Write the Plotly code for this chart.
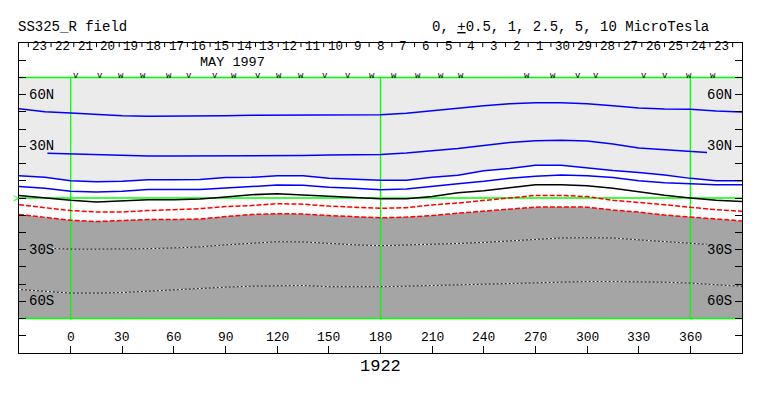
import plotly.graph_objects as go

# ---------------- data ----------------
lon = list(range(-30, 391, 15))  # 29 longitudes

blue_1 = [51.9, 50.1, 49.4, 48.6, 47.8, 47.5, 47.5, 47.5, 47.8, 48.1, 48.1, 48.1, 48.1, 48.1, 48.3,
          49.2, 50.7, 52.1, 53.5, 54.7, 55.3, 55.3, 54.7, 53.5, 52.3, 51.7, 51.5, 50.5, 50.0]
lon_b2 = [-13.5] + list(range(0, 361, 15)) + [369.7]
blue_2 = [26.0, 25.6, 25.0, 24.7, 24.4, 24.4, 24.4, 24.4, 24.4, 24.7, 24.7, 25.0, 25.0, 25.3,
          26.1, 27.3, 28.7, 30.5, 32.2, 33.3, 33.6, 33.1, 31.3, 29.0, 27.9, 26.7, 26.4]
blue_3 = [12.9, 12.1, 10.0, 9.4, 9.7, 10.6, 10.6, 10.8, 11.9, 12.0, 12.9, 12.9, 11.5, 10.7, 10.3,
          10.3, 12.0, 13.2, 15.8, 17.1, 19.0, 19.0, 17.3, 15.9, 14.8, 13.4, 11.4, 10.0, 10.0]
blue_4 = [6.7, 5.7, 3.9, 3.5, 3.9, 5.0, 5.0, 5.0, 5.8, 6.7, 7.5, 7.4, 6.2, 5.7, 4.8,
          5.2, 6.9, 8.3, 9.7, 11.5, 12.7, 13.4, 12.9, 11.9, 10.0, 8.8, 8.3, 7.7, 7.7]
neutral = [1.5, -0.1, -1.3, -2.3, -1.8, -1.0, -1.0, -0.6, 0.6, 1.9, 2.5, 1.7, 0.9, 0.0, -0.4,
           -0.4, 0.9, 3.1, 4.2, 5.9, 7.7, 7.7, 7.1, 5.7, 3.6, 1.6, 0.0, -1.3, -2.0]
red_1 = [-3.9, -5.6, -7.3, -8.1, -8.1, -7.3, -6.9, -6.2, -5.0, -4.4, -3.3, -3.6, -4.7, -5.3, -6.0,
         -5.6, -4.0, -2.9, -1.3, 0.2, 1.5, 1.5, 0.8, -1.3, -2.5, -3.9, -5.4, -6.8, -7.7]
red_2 = [-9.6, -11.4, -12.9, -13.7, -13.1, -12.5, -12.5, -12.2, -10.8, -9.6, -9.1, -9.3, -10.2, -11.0, -11.5,
         -11.1, -10.2, -8.8, -7.6, -6.5, -5.3, -5.2, -5.3, -7.0, -8.2, -9.9, -11.2, -12.2, -13.3]
lon_w1 = [-10.6] + list(range(0, 361, 15)) + [369.5]
white_1 = [-29.3, -29.7, -29.7, -29.7, -29.4, -29.0, -28.4, -27.2, -26.1, -25.4, -25.5, -26.4, -27.2, -27.7,
           -27.4, -26.9, -26.4, -25.8, -24.9, -24.1, -23.2, -23.1, -23.2, -24.3, -25.2, -26.4, -26.9]
white_2 = [-53.1, -54.3, -55.2, -55.2, -54.9, -54.1, -53.2, -52.6, -51.8, -51.2, -50.8, -50.8, -51.5, -51.6, -51.5,
           -51.2, -50.8, -50.4, -50.1, -49.7, -49.2, -48.6, -48.5, -48.5, -48.6, -48.9, -49.4, -50.4, -51.3]

x_ticks = list(range(0, 361, 30))
lat_ticks = [60, 30, -30, -60]
lat_labels = ["60N", "30N", "30S", "60S"]
day_labels = [23, 22, 21, 20, 19, 18, 17, 16, 15, 14, 13, 12, 11, 10, 9, 8, 7, 6, 5, 4, 3, 2, 1,
              30, 29, 28, 27, 26, 25, 24, 23]
vw_lon = [3, 17, 29, 42, 57, 69, 84, 95, 109, 121, 134, 148, 161, 175, 188, 202, 215, 227,
          265, 280, 295, 305, 333, 345, 359, 373]
vw_char = ["v", "v", "w", "w", "w", "v", "v", "w", "v", "w", "w", "v", "v", "w", "w", "w", "w", "w",
           "w", "w", "v", "v", "v", "v", "w", "w"]

DEG_PER_DAY = 360 / 27.2753
FONT = "Liberation Mono, Courier New, monospace"
GREEN = "#00ff00"

fig = go.Figure()

# background shading
fig.add_trace(go.Scatter(x=lon + [390, -30], y=blue_3 + [70, 70], fill="toself",
                         fillcolor="#ebebeb", line=dict(width=0), mode="lines", hoverinfo="skip"))
fig.add_trace(go.Scatter(x=lon + [390, -30], y=red_2 + [-70, -70], fill="toself",
                         fillcolor="#a5a5a5", line=dict(width=0), mode="lines", hoverinfo="skip"))

# green reference lines
fig.add_trace(go.Scatter(x=[-30, 390, None, -30, 390, None, -30, 390],
                         y=[70, 70, None, 0, 0, None, -70, -70],
                         mode="lines", line=dict(color=GREEN, width=1.5)))
fig.add_trace(go.Scatter(x=[0, 0, None, 180, 180, None, 360, 360],
                         y=[-70, 70, None, -70, 70, None, -70, 70],
                         mode="lines", line=dict(color=GREEN, width=1.3)))

# contours
for xs, ys in [(lon, blue_1), (lon_b2, blue_2), (lon, blue_3), (lon, blue_4)]:
    fig.add_trace(go.Scatter(x=xs, y=ys, mode="lines", line=dict(color="#0000ff", width=1.5)))
fig.add_trace(go.Scatter(x=lon, y=neutral, mode="lines", line=dict(color="black", width=1.5)))
for ys in [red_1, red_2]:
    fig.add_trace(go.Scatter(x=lon, y=ys, mode="lines",
                             line=dict(color="#ff0000", width=1.5, dash="5px,2px")))
for xs, ys in [(lon_w1, white_1), (lon, white_2)]:
    fig.add_trace(go.Scatter(x=xs, y=ys, mode="lines", line=dict(color="#222222", width=1)))
    fig.add_trace(go.Scatter(x=xs, y=ys, mode="lines",
                             line=dict(color="white", width=1, dash="2px,2px")))

# day ticks along the top
center0 = 180 - 15 * DEG_PER_DAY
day_centers = [center0 + i * DEG_PER_DAY for i in range(len(day_labels))]
bounds = [c - DEG_PER_DAY / 2 for c in day_centers] + [day_centers[-1] + DEG_PER_DAY / 2]
tx, ty = [], []
for b in bounds:
    tx += [b, b, None]
    ty += [90, 87.6, None]
fig.add_trace(go.Scatter(x=tx, y=ty, mode="lines", line=dict(color="black", width=1)))

ann = []
for c, d in zip(day_centers, day_labels):
    ann.append(dict(x=c, y=87.5, xref="x", yref="y", text=str(d), showarrow=False,
                    font=dict(family=FONT, size=12.5, color="black"), xanchor="center", yanchor="middle"))
ann.append(dict(x=94, y=78.9, xref="x", yref="y", text="MAY 1997", showarrow=False,
                font=dict(family=FONT, size=13.5, color="black"), xanchor="center", yanchor="middle"))
for lx, ch in zip(vw_lon, vw_char):
    ann.append(dict(x=lx, y=71.1, xref="x", yref="y", text=ch, showarrow=False,
                    font=dict(family=FONT, size=9, color="black"), xanchor="center", yanchor="middle"))
for v in x_ticks:
    ann.append(dict(x=v, y=-81.2, xref="x", yref="y", text=str(v), showarrow=False,
                    font=dict(family=FONT, size=13, color="black"), xanchor="center", yanchor="middle"))
for v, t in zip(lat_ticks, lat_labels):
    ann.append(dict(x=-25.5, y=v, xref="x", yref="y", text=t, showarrow=False,
                    font=dict(family=FONT, size=14, color="black"), xanchor="left", yanchor="middle"))
    ann.append(dict(x=385.5, y=v, xref="x", yref="y", text=t, showarrow=False,
                    font=dict(family=FONT, size=14, color="black"), xanchor="right", yanchor="middle"))
ann.append(dict(x=-0.0035, y=-1, xref="paper", yref="y", text=">", showarrow=False,
                font=dict(family=FONT, size=10, color=GREEN), xanchor="center", yanchor="middle"))
ann.append(dict(x=180, y=-0.042, xref="x", yref="paper", text="1922", showarrow=False,
                font=dict(family=FONT, size=17, color="black"), xanchor="center", yanchor="middle"))
ann.append(dict(x=-0.004, y=1.05, xref="paper", yref="paper", text="SS325_R field", showarrow=False,
                font=dict(family=FONT, size=14, color="black"), xanchor="left", yanchor="middle"))
ann.append(dict(x=0.9575, y=1.05, xref="paper", yref="paper",
                text="0, <u>+</u>0.5, 1, 2.5, 5, 10 MicroTesla", showarrow=False,
                font=dict(family=FONT, size=14, color="black"), xanchor="right", yanchor="middle"))

# page body has an 8px margin, so the figure is shrunk and the plot area shifted to compensate
fig.update_layout(
    width=755, height=388,
    margin=dict(l=11, r=21, t=35, b=43),
    paper_bgcolor="white", plot_bgcolor="white",
    showlegend=False,
    annotations=ann,
    xaxis=dict(range=[-30, 390], showgrid=False, zeroline=False, showline=True, linecolor="black",
               linewidth=1, mirror=True, ticks="inside", ticklen=7, tickcolor="black",
               tickvals=x_ticks, showticklabels=False, fixedrange=True),
    yaxis=dict(range=[-90, 90], showgrid=False, zeroline=False, showline=True, linecolor="black",
               linewidth=1, mirror="ticks", ticks="inside", ticklen=7, tickcolor="black",
               tickvals=list(range(-80, 81, 10)), showticklabels=False, fixedrange=True),
)

fig.write_html("out.html")
